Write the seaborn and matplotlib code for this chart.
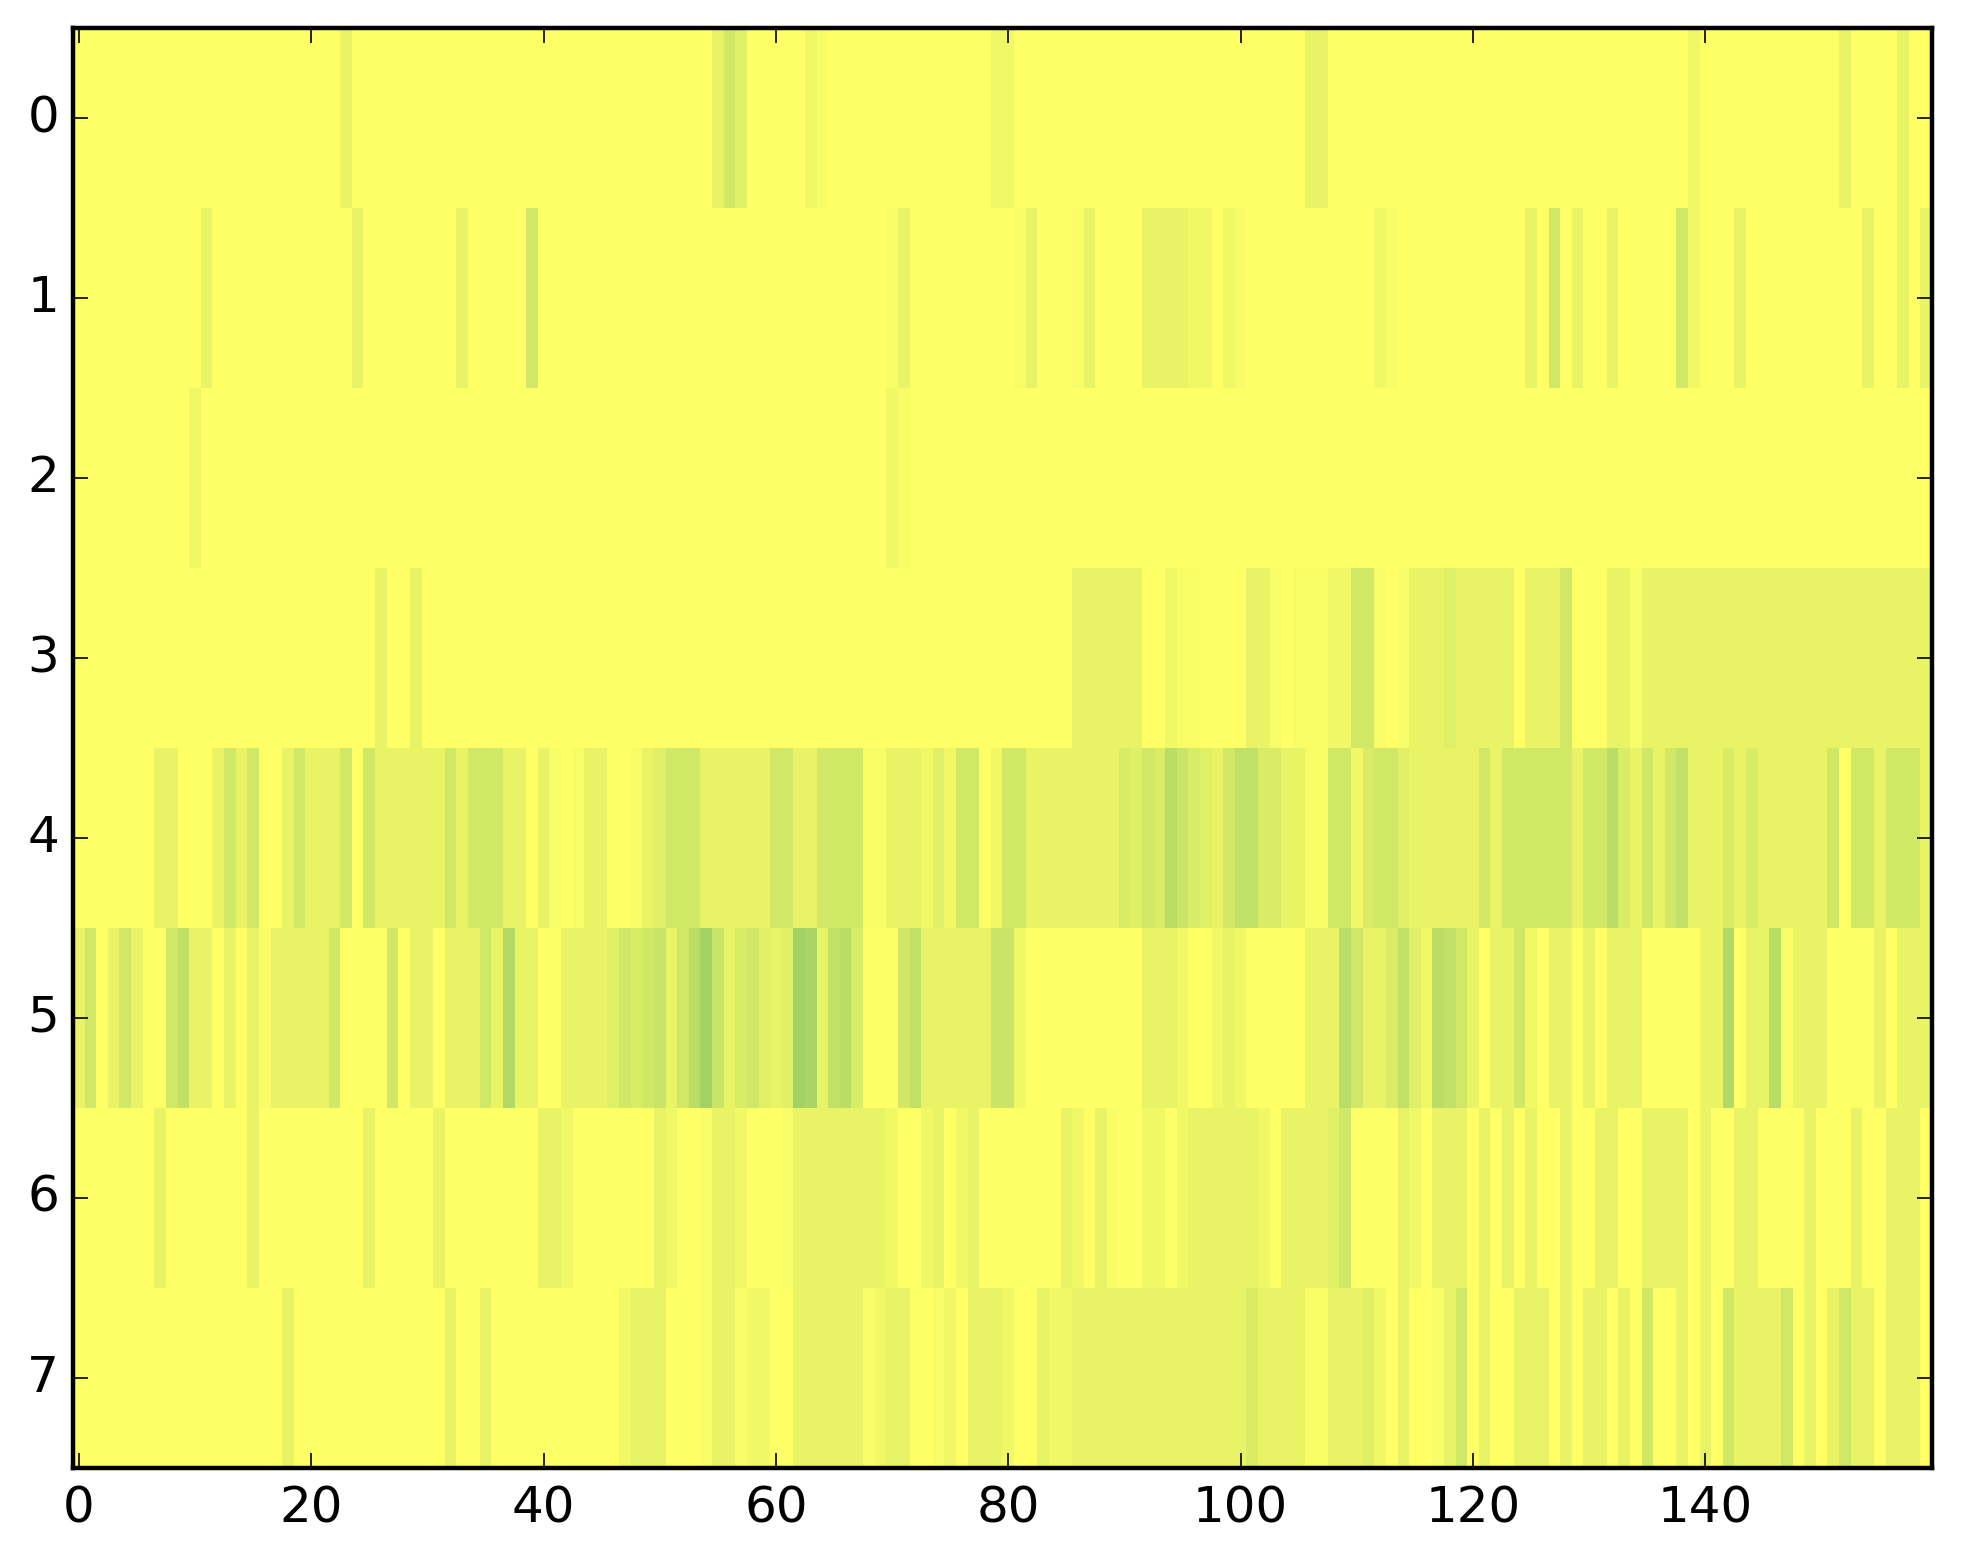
import numpy as np
import matplotlib
matplotlib.use("Agg")
import matplotlib.pyplot as plt
import seaborn as sns

# values, 20 columns per line
row_0 = [
    0,0,0,0,0,0,0,0,0,0,0,0,0,0,0,0,0,0,0,0,
    0,0,0,3,0,0,0,0,0,0,0,0,0,0,0,0,0,0,0,0,
    0,0,0,0,0,0,0,0,0,0,0,0,0,0,0,3,6,4,0,0,
    0,0,0,2,1,0,0,0,0,0,0,0,0,0,0,0,0,0,0,2,
    2,0,0,0,0,0,0,0,0,0,0,0,0,0,0,0,0,0,0,0,
    0,0,0,0,0,0,3,3,0,0,0,0,0,0,0,0,0,0,0,0,
    0,0,0,0,0,0,0,0,0,0,0,0,0,0,0,0,0,0,0,2,
    0,0,0,0,0,0,0,0,0,0,0,0,3,0,0,0,0,3,0,0,
]
row_1 = [
    0,0,0,0,0,0,0,0,0,0,0,3,0,0,0,0,0,0,0,0,
    0,0,0,0,3,0,0,0,0,0,0,0,0,3,0,0,0,0,0,6,
    0,0,0,0,0,0,0,0,0,0,0,0,0,0,0,0,0,0,0,0,
    0,0,0,0,0,0,0,0,0,0,1,3,0,0,0,0,0,0,0,0,
    0,1,3,0,0,0,1,3,0,0,0,0,3,3,3,3,2,2,0,2,
    1,0,0,0,0,0,0,0,0,0,0,0,2,1,0,0,0,0,0,0,
    0,0,0,0,0,3,0,6,0,3,0,0,3,0,0,0,0,0,6,2,
    0,0,0,3,0,0,0,0,0,0,0,0,0,0,3,0,0,3,0,3,
]
row_2 = [
    0,0,0,0,0,0,0,0,0,0,2,0,0,0,0,0,0,0,0,0,
    0,0,0,0,0,0,0,0,0,0,0,0,0,0,0,0,0,0,0,0,
    0,0,0,0,0,0,0,0,0,0,0,0,0,0,0,0,0,0,0,0,
    0,0,0,0,0,0,0,0,0,0,2,1,0,0,0,0,0,0,0,0,
    0,0,0,0,0,0,0,0,0,0,0,0,0,0,0,0,0,0,0,0,
    0,0,0,0,0,0,0,0,0,0,0,0,0,0,0,0,0,0,0,0,
    0,0,0,0,0,0,0,0,0,0,0,0,0,0,0,0,0,0,0,0,
    0,0,0,0,0,0,0,0,0,0,0,0,0,0,0,0,0,0,0,0,
]
row_3 = [
    0,0,0,0,0,0,0,0,0,0,0,0,0,0,0,0,0,0,0,0,
    0,0,0,0,0,0,3,0,0,3,0,0,0,0,0,0,0,0,0,0,
    0,0,0,0,0,0,0,0,0,0,0,0,0,0,0,0,0,0,0,0,
    0,0,0,0,0,0,0,0,0,0,0,0,0,0,0,0,0,0,0,0,
    0,0,0,0,0,0,3,3,3,3,3,3,0,0,2,1,1,0,0,0,
    0,3,3,1,0,1,1,1,2,2,6,6,1,0,1,3,3,3,4,3,
    3,3,3,3,0,3,3,3,6,0,0,0,3,3,1,3,3,3,3,3,
    3,3,3,3,3,3,3,3,3,3,3,3,3,3,3,3,3,3,3,3,
]
row_4 = [
    0,0,0,0,0,0,0,3,3,0,0,0,3,6,3,6,0,0,3,6,
    3,3,3,6,0,6,3,3,3,3,3,3,6,3,6,6,6,3,3,0,
    3,1,0,1,3,3,0,0,1,3,4,6,6,6,3,3,3,3,3,3,
    6,6,3,3,6,6,6,6,1,1,3,3,3,2,4,2,6,6,0,2,
    6,6,3,3,3,3,3,3,3,3,5,4,6,5,9,7,5,4,3,6,
    8,8,5,5,3,3,1,1,6,6,2,5,6,6,4,3,3,3,3,3,
    3,6,3,6,6,6,6,6,6,3,6,6,9,5,3,6,3,6,8,3,
    3,3,5,3,5,3,3,3,3,3,3,6,0,6,6,3,6,6,6,3,
]
row_5 = [
    3,6,0,3,6,3,0,0,6,8,3,3,0,3,0,3,1,3,3,3,
    3,3,6,0,0,0,0,6,0,3,3,0,3,3,3,6,3,10,3,3,
    0,0,3,3,3,3,4,6,5,6,7,3,6,9,12,7,3,5,6,4,
    3,4,12,11,3,8,9,5,0,0,0,6,8,3,3,3,3,3,3,7,
    7,2,0,0,0,0,0,0,0,0,0,0,3,3,3,2,0,0,2,3,
    2,0,0,0,0,0,3,3,3,9,6,3,3,5,8,4,2,9,8,6,
    3,0,3,3,6,2,0,3,3,0,3,0,3,3,3,0,0,0,0,0,
    3,3,10,0,3,3,9,1,3,3,3,0,0,0,0,3,0,3,3,3,
]
row_6 = [
    0,0,0,0,0,0,0,3,0,0,0,0,0,0,0,3,0,0,0,0,
    0,0,0,0,0,3,0,0,0,0,0,3,0,0,0,0,0,0,0,0,
    3,3,2,0,0,0,0,0,0,0,3,2,0,0,1,3,3,2,0,0,
    0,1,3,3,3,3,3,3,3,3,2,0,0,2,3,0,2,3,0,0,
    0,0,0,0,0,3,2,0,3,1,0,0,2,2,0,2,3,3,3,3,
    3,3,2,0,3,3,3,3,4,6,0,0,0,0,3,2,0,3,3,3,
    0,3,0,3,0,3,0,0,3,0,0,3,3,0,0,3,3,3,3,0,
    3,0,0,3,3,0,0,0,0,3,0,0,0,3,0,0,3,3,3,0,
]
row_7 = [
    0,0,0,0,0,0,0,0,0,0,0,0,0,0,0,0,0,0,3,0,
    0,0,0,0,0,0,0,0,0,0,0,0,3,0,0,3,0,0,0,0,
    0,0,0,0,0,0,0,2,3,3,3,0,0,0,1,3,3,1,2,2,
    0,0,3,3,3,3,3,3,1,2,3,3,0,0,1,2,0,3,3,3,
    2,0,0,3,2,2,3,3,3,3,3,3,3,3,3,3,3,3,3,3,
    3,5,3,3,3,3,1,1,3,3,3,4,2,0,3,0,0,1,3,6,
    0,3,0,0,3,3,3,0,3,0,3,3,0,3,0,6,0,0,3,0,
    3,0,6,3,3,3,3,6,0,3,0,3,6,3,3,0,3,3,3,0,
]

x_ticks = [0, 20, 40, 60, 80, 100, 120, 140]
y_ticks = [0, 1, 2, 3, 4, 5, 6, 7]

data = np.array([row_0, row_1, row_2, row_3, row_4, row_5, row_6, row_7])

fig = plt.figure(figsize=(9.815, 7.82), dpi=200)
ax = fig.add_axes([73 / 1963, 1 - 1468 / 1564, (1932 - 73) / 1963, (1468 - 28) / 1564])

sns.heatmap(data, cmap="summer_r", vmin=0, vmax=33, cbar=False, ax=ax)

# heatmap cells are centred on i + 0.5, the labels sit on the centres
ax.set_xticks(np.array(x_ticks) + 0.5)
ax.set_xticklabels(x_ticks, rotation=0)
ax.set_yticks(np.array(y_ticks) + 0.5)
ax.set_yticklabels(y_ticks, rotation=0)

ax.tick_params(direction="in", top=True, right=True, length=5.4, width=0.6, labelsize=18)
ax.tick_params(axis="x", pad=6)
ax.tick_params(axis="y", pad=5)
for spine in ax.spines.values():
    spine.set_visible(True)
    spine.set_linewidth(1.6)
    spine.set_color("black")

fig.savefig("out.png", dpi=200)
